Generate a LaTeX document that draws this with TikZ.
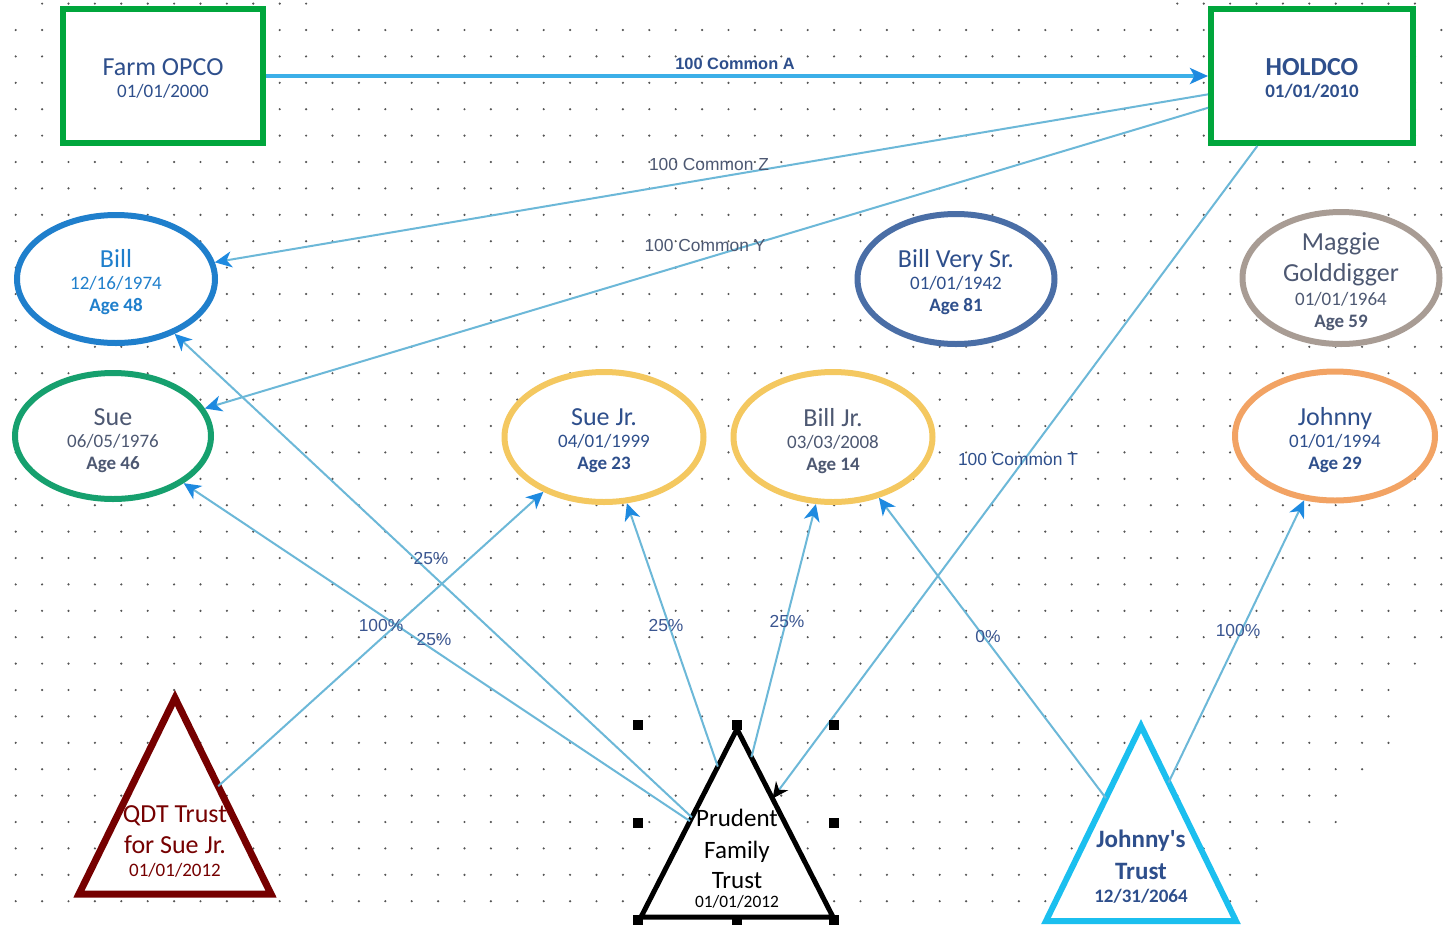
\documentclass[tikz,border=0pt]{standalone}
\usepackage{fontspec}
\setmainfont{Carlito}
\newfontfamily\lsans{Liberation Sans}
\usetikzlibrary{shapes.geometric,arrows.meta,calc}
\definecolor{grn}{HTML}{00A63C}
\definecolor{txtblue}{HTML}{2E4F8C}
\definecolor{billblue}{HTML}{1F7FCC}
\definecolor{suegrn}{HTML}{16A06E}
\definecolor{bvsblue}{HTML}{4A6EA6}
\definecolor{maggiec}{HTML}{A89C94}
\definecolor{goldc}{HTML}{F4C860}
\definecolor{orngc}{HTML}{F2A364}
\definecolor{qdtred}{HTML}{760000}
\definecolor{jcyan}{HTML}{1BBFEF}
\definecolor{connc}{HTML}{6CB8D8}
\definecolor{arrowb}{HTML}{1E8AE0}
\definecolor{mainarrow}{HTML}{3CAFE8}
\definecolor{greytxt}{HTML}{4D5872}
\definecolor{pcttxt}{HTML}{3A5590}
\definecolor{dotc}{HTML}{555555}
\newcommand{\bigtxt}{\fontsize{13}{13}\selectfont}
\newcommand{\smalltxt}{\fontsize{9.5}{11}\selectfont\lineskiplimit-100pt\relax}
\begin{document}
\begin{tikzpicture}[x=0.5pt,y=-0.5pt,
  box/.style={draw=grn,line width=3pt,fill=white,minimum width=100pt,minimum height=67pt,inner sep=0pt},
  person/.style={ellipse,line width=3pt,fill=white,minimum width=99pt,minimum height=64pt,inner sep=0pt},
  ptext/.style={align=center,inner sep=0pt,font=\smalltxt},
  conn/.style={draw=connc,line width=1pt,-{Stealth[length=8.5pt,width=8pt,inset=2.5pt,color=arrowb]}},
  connk/.style={draw=connc,line width=1pt,-{Stealth[length=8pt,width=7.5pt,inset=2.5pt,color=black]}},
  mainarr/.style={draw=mainarrow,line width=1.6pt,-{Stealth[length=9pt,width=8pt,inset=2.2pt,color=arrowb]}},
  lbl/.style={font=\lsans\fontsize{8.7}{10}\selectfont,inner sep=0pt},
  tri/.style={line width=3pt,fill=white,line join=miter}
]
\useasboundingbox (0,0) rectangle (1448,928);
\fill[white] (0,0) rectangle (1448,928);
% dotted grid
\foreach \i in {0,...,54}{\foreach \j in {0,...,33}{\fill[dotc] (15.7+26.4*\i,30+26.4*\j) circle (0.6pt);}}
\foreach \i in {1,...,11}{\fill[dotc] (15.7+26.4*\i,3.6) circle (0.6pt);}
\foreach \i in {44,...,53}{\fill[dotc] (15.7+26.4*\i,3.6) circle (0.6pt);}
\fill[white] (1430,650) -- (1448,650) -- (1448,928) -- (1280,928) -- (1280,836) -- (1345,836) -- (1345,783) -- (1375,783) -- (1375,757) -- (1400,757) -- (1400,677) -- (1430,677) -- cycle;

% boxes
\node[box] (farm) at (163,76) {};
\node[box,minimum width=101pt] (holdco) at (1312,76) {};
\node[ptext,text=txtblue] (farmT) at (163,78.5) {{\bigtxt Farm OPCO}\\01/01/2000};
\node[ptext,text=txtblue] (holdcoT) at (1312,78.5) {{\bigtxt\bfseries HOLDCO}\\\textbf{01/01/2010}};

% people
\node[person,draw=billblue] (bill) at (116,279) {};
\node[person,draw=suegrn,minimum width=98pt,minimum height=63pt] (sue) at (113,436) {};
\node[person,draw=bvsblue,minimum width=98.5pt,minimum height=65pt] (bvs) at (956,279) {};
\node[person,draw=maggiec,minimum width=98.5pt,minimum height=66pt] (maggie) at (1341,278) {};
\node[person,draw=goldc,minimum width=99.5pt,minimum height=65pt] (suejr) at (604,437) {};
\node[person,draw=goldc,minimum width=99.5pt,minimum height=65pt] (billjr) at (833,437) {};
\node[person,draw=orngc,minimum width=100pt,minimum height=64.5pt] (johnny) at (1335,436) {};

\node[ptext,text=billblue] (billT) at (116,282) {{\bigtxt Bill}\\12/16/1974\\\textbf{Age 48}};
\node[ptext,text=greytxt] (sueT) at (113,441) {{\bigtxt Sue}\\06/05/1976\\\textbf{Age 46}};
\node[ptext,text=txtblue] (bvsT) at (956,282) {{\bigtxt Bill Very Sr.}\\01/01/1942\\\textbf{Age 81}};
\node[ptext,text=greytxt] (maggieT) at (1341,281.5) {{\bigtxt Maggie}\\[4.5pt]{\bigtxt Golddigger}\\[1pt]01/01/1964\\\textbf{Age 59}};
\node[ptext,text=txtblue] (suejrT) at (604,441) {{\bigtxt Sue Jr.}\\04/01/1999\\\textbf{Age 23}};
\node[ptext,text=greytxt] (billjrT) at (833,441) {{\bigtxt Bill Jr.}\\03/03/2008\\\textbf{Age 14}};
\node[ptext,text=txtblue] (johnnyT) at (1335,440) {{\bigtxt Johnny}\\01/01/1994\\\textbf{Age 29}};

% triangles
\coordinate (qA) at (175,698);
\coordinate (qL) at (79,894);
\coordinate (qR) at (271,894);
\coordinate (pA) at (737,729);
\coordinate (pL) at (641,917);
\coordinate (pR) at (833,917);
\coordinate (jA) at (1141,726);
\coordinate (jL) at (1046,921);
\coordinate (jR) at (1236,921);
\draw[tri,draw=qdtred,line width=3.5pt] (qA) -- (qR) -- (qL) -- cycle;
\draw[tri,draw=black,line width=2.5pt] (pA) -- (pR) -- (pL) -- cycle;
\draw[tri,draw=jcyan] (jA) -- (jR) -- (jL) -- cycle;

% connector end points on the triangles
\coordinate (qS) at ($(qA)!0.45!(qR)$);
\coordinate (pBill) at ($(pA)!0.47!(pL)$);
\coordinate (pSue) at ($(pA)!0.49!(pL)$);
\coordinate (pSueJr) at ($(pA)!0.2!(pL)$);
\coordinate (pBillJr) at ($(pA)!0.15!(pR)$);
\coordinate (pHold) at ($(pA)!0.37!(pR)$);
\coordinate (jBillJr) at ($(jA)!0.37!(jL)$);
\coordinate (jJohnny) at ($(jA)!0.29!(jR)$);

% connectors
\draw[mainarr] (farm) -- (holdco);
\draw[conn] (holdco.190) -- (bill);
\draw[conn] (holdco.197) -- (sue);
\draw[connk] (holdco.232) -- (pHold);
\draw[conn] (qS) -- (suejr);
\draw[conn] (pBill) -- (bill);
\draw[conn] (pSue) -- (sue);
\draw[conn] (pSueJr) -- (suejr);
\draw[conn] (pBillJr) -- (billjr);
\draw[conn] (jBillJr) -- (billjr);
\draw[conn] (jJohnny) -- (johnny);

% labels
\node[lbl,text=txtblue,font=\lsans\bfseries\fontsize{8.2}{10}\selectfont] (lA) at (735,64) {100 Common A};
\node[lbl,text=greytxt] (lZ) at (709,165) {100 Common Z};
\node[lbl,text=greytxt] (lY) at (705,246) {100 Common Y};
\node[lbl,text=txtblue] (lT) at (1018,460) {100 Common T};
\node[lbl,text=pcttxt] (p1) at (431,559) {25\%};
\node[lbl,text=pcttxt] (p2) at (381,626) {100\%};
\node[lbl,text=pcttxt] (p3) at (434,640) {25\%};
\node[lbl,text=pcttxt] (p4) at (666,626) {25\%};
\node[lbl,text=pcttxt] (p5) at (787,621) {25\%};
\node[lbl,text=pcttxt] (p6) at (988,636) {0\%};
\node[lbl,text=pcttxt] (p7) at (1238,631) {100\%};

% triangle texts
\node[ptext,text=qdtred] (qdt) at (175,841) {{\bigtxt QDT Trust}\\[4.5pt]{\bigtxt for Sue Jr.}\\[0.5pt]01/01/2012};
\node[ptext,text=black] (pft) at (737,859) {{\fontsize{12.5}{12.5}\selectfont Prudent}\\[5pt]{\fontsize{12.5}{12.5}\selectfont Family}\\[4pt]{\fontsize{12.5}{12.5}\selectfont Trust}\\[-1.5pt]{\fontsize{8.7}{9}\selectfont 01/01/2012}};
\node[ptext,text=txtblue,font=\smalltxt\bfseries] (jt) at (1141,866.5) {{\fontsize{12.5}{12.5}\selectfont Johnny\textquotesingle s}\\[5pt]{\fontsize{12.5}{12.5}\selectfont Trust}\\[0.5pt]12/31/2064};

% selection handles of the Prudent Family Trust
\foreach \p in {(638,725),(737,725),(834,725),(638,823),(834,823),(638,920),(737,920),(834,920)}{\fill[black] \p ++(-2.5pt,-2.5pt) rectangle ++(5pt,5pt);}
\end{tikzpicture}
\end{document}
